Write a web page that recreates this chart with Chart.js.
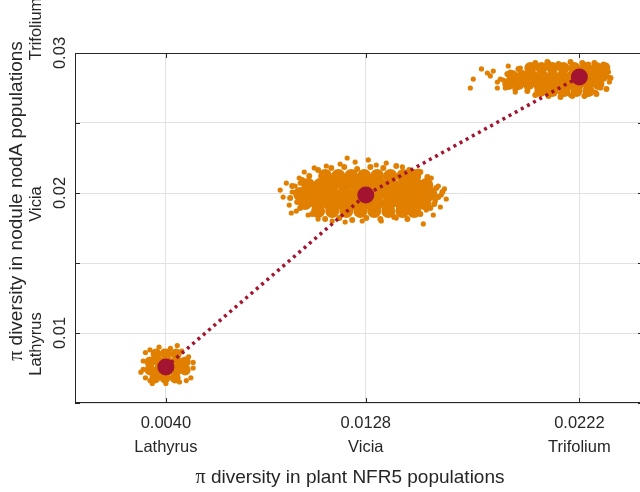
<!DOCTYPE html>
<html><head><meta charset="utf-8">
<script src="https://cdn.jsdelivr.net/npm/chart.js@4/dist/chart.umd.min.js"></script>
<style>html,body{margin:0;padding:0;overflow:hidden;background:#fff}canvas{display:block}</style>
</head><body>
<canvas id="c" width="645" height="492"></canvas>
<script>
// ---- data ----
const species = ['Lathyrus', 'Vicia', 'Trifolium'];
const plantPi = [0.0040, 0.0128, 0.0222];            // x: π diversity in plant NFR5
const xTickLabels = ['0.0040', '0.0128', '0.0222'];
const nodulePi = [0.00757, 0.01986, 0.02829];         // y: π diversity in nodule nodA (means)
const yTickValues = [0.01, 0.02, 0.03];
const yTickLabels = ['0.01', '0.02', '0.03'];
const yGridValues = [0.005, 0.01, 0.015, 0.02, 0.025, 0.03];

// resampled cloud: dense cores
const lathyrusCoreX = [0.00357,0.00401,0.00445,
  0.00330,0.00370,0.00410,0.00449,0.00485,
  0.00330,0.00370,0.00410,0.00449,0.00485,
  0.00352,0.00396,0.00441];
const lathyrusCoreY = [0.00850,0.00850,0.00850,
  0.00793,0.00793,0.00793,0.00793,0.00793,
  0.00736,0.00736,0.00736,0.00736,0.00736,
  0.00679,0.00679,0.00679];
const viciaCoreX = [0.01101,0.01159,0.01216,0.01273,0.01330,0.01388,0.01445,0.01493,
  0.01026,0.01079,0.01132,0.01185,0.01238,0.01291,0.01344,0.01396,0.01449,0.01502,0.01546,
  0.00991,0.01040,0.01088,0.01137,0.01185,0.01233,0.01282,0.01330,0.01379,0.01427,0.01476,0.01524,0.01564,
  0.01013,0.01066,0.01119,0.01172,0.01225,0.01278,0.01330,0.01383,0.01436,0.01489,0.01537,
  0.01070,0.01132,0.01194,0.01256,0.01317,0.01379,0.01441,0.01493];
const viciaCoreY = [0.02121,0.02121,0.02121,0.02121,0.02121,0.02121,0.02121,0.02121,
  0.02057,0.02057,0.02057,0.02057,0.02057,0.02057,0.02057,0.02057,0.02057,0.02057,0.02057,
  0.01993,0.01993,0.01993,0.01993,0.01993,0.01993,0.01993,0.01993,0.01993,0.01993,0.01993,0.01993,0.01993,
  0.01929,0.01929,0.01929,0.01929,0.01929,0.01929,0.01929,0.01929,0.01929,0.01929,0.01929,
  0.01871,0.01871,0.01871,0.01871,0.01871,0.01871,0.01871,0.01871];
const trifoliumCoreX = [0.02004,0.02053,0.02101,0.02150,0.02198,0.02247,0.02295,0.02330,
  0.01925,0.01969,0.02013,0.02057,0.02101,0.02145,0.02189,0.02233,0.02278,0.02322,
  0.01907,0.01952,0.01996,0.02040,0.02084,0.02128,0.02172,0.02216,0.02260,0.02304,
  0.02048,0.02101,0.02154,0.02207,0.02260];
const trifoliumCoreY = [0.02893,0.02893,0.02893,0.02893,0.02893,0.02893,0.02893,0.02893,
  0.02836,0.02836,0.02836,0.02836,0.02836,0.02836,0.02836,0.02836,0.02836,0.02836,
  0.02779,0.02779,0.02779,0.02779,0.02779,0.02779,0.02779,0.02779,0.02779,0.02779,
  0.02729,0.02729,0.02729,0.02729,0.02729];

// resampled cloud: samples along the rim of the dense part
const viciaRimX = [0.01070,0.01128,0.01185,0.01242,0.01300,0.01357,0.01414,0.01471,0.01520,0.01551,0.01000,0.01031,
  0.01044,0.01101,0.01163,0.01220,0.01282,0.01344,0.01405,0.01463,0.01520,0.01564,0.00991,0.00978,
  0.00956,0.00947,0.00974,0.01590,0.01599,0.01581,0.01617];
const viciaRimY = [0.02164,0.02179,0.02186,0.02171,0.02186,0.02179,0.02193,0.02164,0.02150,0.02114,0.02093,0.02121,
  0.01850,0.01814,0.01821,0.01807,0.01821,0.01814,0.01829,0.01814,0.01850,0.01893,0.01893,0.01936,
  0.02050,0.01964,0.02000,0.02036,0.01971,0.01921,0.02007];
const trifoliumRimX = [0.02026,0.02079,0.02128,0.02181,0.02233,0.02286,0.02339,0.01952,0.01903,
  0.01938,0.01991,0.02026,0.02084,0.02137,0.02189,0.02242,0.02295,0.02339,0.02357];
const trifoliumRimY = [0.02929,0.02936,0.02921,0.02936,0.02929,0.02929,0.02907,0.02886,0.02850,
  0.02743,0.02729,0.02700,0.02693,0.02686,0.02693,0.02693,0.02707,0.02743,0.02821];

// resampled cloud: scattered outer samples
const lathyrusEdgeX = [0.0031,0.0033,0.0037,0.0042,0.0047,0.0050,0.0052,0.0051,0.0046,0.0040,0.0034,0.0031,0.0030,0.0030,0.0052,0.0033,0.0045,0.0029,0.0039,0.0049];
const lathyrusEdgeY = [0.0086,0.0088,0.0090,0.0089,0.0087,0.0083,0.0075,0.0068,0.0065,0.0064,0.0064,0.0068,0.0074,0.0080,0.0079,0.0066,0.0091,0.0072,0.0087,0.0066];
const viciaEdgeX = [0.00903,0.00916,0.00930,0.00943,0.00956,0.00969,0.00974,0.00987,0.00991,0.01009,0.01026,0.01053,0.01070,0.01106,0.01132,0.01167,0.01189,0.01233,0.01264,0.01291,0.01326,0.01348,0.01370,0.01414,0.01441,0.01480,0.01511,0.01546,0.01568,0.01586,0.01599,0.01612,0.01626,0.01634,0.01577,0.00991,0.01608,0.01198,0.00952,0.01533,0.01035,0.01555];
const viciaEdgeY = [0.02021,0.01971,0.02071,0.01914,0.02007,0.02050,0.01871,0.02107,0.01950,0.02150,0.01843,0.02179,0.01814,0.02193,0.01800,0.02207,0.01793,0.02221,0.01800,0.02236,0.02200,0.01800,0.02214,0.01821,0.02186,0.01850,0.02157,0.01879,0.02107,0.01943,0.02050,0.01986,0.02029,0.01957,0.01843,0.02071,0.01900,0.02250,0.01857,0.01779,0.02036,0.02050];
const trifoliumEdgeX = [0.01740,0.01753,0.01789,0.01815,0.01828,0.01841,0.01859,0.01872,0.01907,0.01885,0.01894,0.01916,0.01938,0.01960,0.02026,0.02084,0.02137,0.02181,0.02247,0.02291,0.02326,0.02348,0.02352,0.02313,0.02260,0.02070,0.01947,0.01859,0.02344];
const trifoliumEdgeY = [0.02750,0.02814,0.02886,0.02857,0.02836,0.02871,0.02793,0.02814,0.02907,0.02807,0.02750,0.02864,0.02721,0.02893,0.02921,0.02929,0.02714,0.02700,0.02700,0.02721,0.02921,0.02864,0.02793,0.02750,0.02921,0.02729,0.02771,0.02750,0.02829];

// ---- build tables ----
const pts = (xs, ys) => xs.map((x, i) => ({x: x, y: ys[i]}));
const ORANGE = '#E07F00', RED = '#A2142F', INK = '#262626';
const TICK_FONT = '16.5px "Liberation Sans", Arial, sans-serif';
const TITLE_FONT = '19px "Liberation Sans", Arial, sans-serif';
const PI_FONT = '20px "Liberation Serif", "Times New Roman", serif';

function cloud(xs, ys, r) {
  return {type: 'scatter', data: pts(xs, ys), pointRadius: r, pointHoverRadius: r,
    backgroundColor: ORANGE, borderWidth: 0, pointBorderWidth: 0};
}

function drawTitle(ctx, rest, cx, by) {
  ctx.save();
  ctx.font = PI_FONT; const wp = ctx.measureText('π').width;
  ctx.font = TITLE_FONT; const wr = ctx.measureText(rest).width;
  const x0 = cx - (wp + wr) / 2;
  ctx.textAlign = 'left';
  ctx.font = PI_FONT; ctx.fillText('π', x0, by);
  ctx.font = TITLE_FONT; ctx.fillText(rest, x0 + wp, by);
  ctx.restore();
}

const frame = {
  id: 'frame',
  beforeDatasetsDraw(chart) {
    const {ctx, chartArea: a, scales: {x, y}} = chart;
    ctx.save();
    ctx.strokeStyle = INK; ctx.lineWidth = 1;
    ctx.strokeRect(a.left + 0.5, a.top + 0.5, a.right - a.left - 1, a.bottom - a.top - 1);
    ctx.beginPath();
    plantPi.forEach(v => {
      const px = Math.round(x.getPixelForValue(v)) + 0.5;
      ctx.moveTo(px, a.bottom); ctx.lineTo(px, a.bottom - 5);
      ctx.moveTo(px, a.top); ctx.lineTo(px, a.top + 5);
    });
    yGridValues.forEach(v => {
      const py = Math.round(y.getPixelForValue(v)) + 0.5;
      ctx.moveTo(a.left, py); ctx.lineTo(a.left + 5, py);
      ctx.moveTo(a.right, py); ctx.lineTo(a.right - 5, py);
    });
    ctx.stroke();
    ctx.restore();
  },
  afterDraw(chart) {
    const {ctx, scales: {x, y}} = chart;
    ctx.save();
    ctx.fillStyle = INK;
    ctx.font = TICK_FONT; ctx.textAlign = 'center'; ctx.textBaseline = 'alphabetic';
    plantPi.forEach((v, i) => {
      const px = x.getPixelForValue(v);
      ctx.fillText(xTickLabels[i], px, 428);
      ctx.fillText(species[i], px, 452);
    });
    drawTitle(ctx, ' diversity in plant NFR5 populations', 350, 483);
    const spOffset = [11, 11, -24];
    yTickValues.forEach((v, i) => {
      const py = y.getPixelForValue(v);
      ctx.save(); ctx.translate(65, py); ctx.rotate(-Math.PI / 2);
      ctx.font = TICK_FONT; ctx.textAlign = 'center';
      ctx.fillText(yTickLabels[i], 0, 0);
      ctx.restore();
      ctx.save(); ctx.translate(41, py + spOffset[i]); ctx.rotate(-Math.PI / 2);
      ctx.font = TICK_FONT; ctx.textAlign = 'center';
      ctx.fillText(species[i], 0, 0);
      ctx.restore();
    });
    ctx.save(); ctx.translate(22, 201); ctx.rotate(-Math.PI / 2);
    drawTitle(ctx, ' diversity in nodule nodA populations', 0, 0);
    ctx.restore();
    ctx.restore();
  }
};

new Chart(document.getElementById('c'), {
  type: 'scatter',
  data: {
    datasets: [
      {type: 'scatter', data: pts(plantPi, nodulePi), pointRadius: 8.5, pointHoverRadius: 8.5,
        backgroundColor: RED, borderWidth: 0, pointBorderWidth: 0},
      {type: 'line', data: pts(plantPi, nodulePi), borderColor: RED, borderWidth: 3.5,
        borderDash: [3, 4], borderCapStyle: 'butt', pointRadius: 0, fill: false, tension: 0},
      cloud(lathyrusCoreX, lathyrusCoreY, 5.5),
      cloud(viciaCoreX, viciaCoreY, 7),
      cloud(trifoliumCoreX, trifoliumCoreY, 6),
      cloud(viciaRimX, viciaRimY, 3),
      cloud(trifoliumRimX, trifoliumRimY, 3),
      cloud(lathyrusEdgeX, lathyrusEdgeY, 2.6),
      cloud(viciaEdgeX, viciaEdgeY, 2.6),
      cloud(trifoliumEdgeX, trifoliumEdgeY, 2.6)
    ]
  },
  options: {
    responsive: false, animation: false, events: [],
    layout: {autoPadding: false, padding: {left: 0, top: 53, right: 2, bottom: 0}},
    plugins: {legend: {display: false}, tooltip: {enabled: false}},
    scales: {
      x: {type: 'linear', min: 0, max: 0.025,
        afterBuildTicks: s => { s.ticks = plantPi.map(v => ({value: v})); },
        ticks: {display: false},
        grid: {color: '#e2e2e2', drawTicks: false, lineWidth: 1},
        border: {display: false},
        afterFit: s => { s.height = 89; }},
      y: {type: 'linear', min: 0.005, max: 0.03,
        afterBuildTicks: s => { s.ticks = yGridValues.map(v => ({value: v})); },
        ticks: {display: false},
        grid: {color: '#e2e2e2', drawTicks: false, lineWidth: 1},
        border: {display: false},
        afterFit: s => { s.width = 75; }}
    }
  },
  plugins: [frame]
});
</script>
</body></html>
